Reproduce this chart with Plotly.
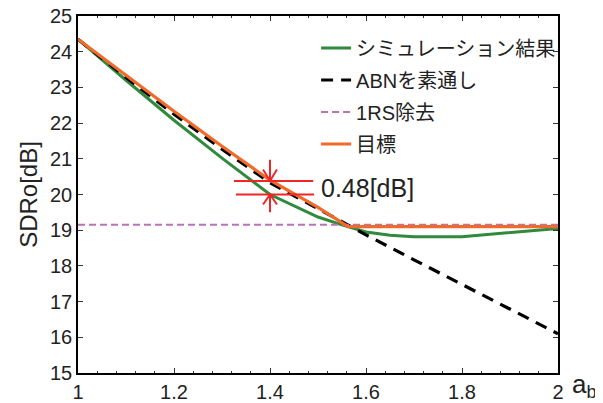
import plotly.graph_objects as go

# ---------------- data ----------------
sim_x = [1.0, 1.1, 1.2, 1.3, 1.4, 1.5, 1.55, 1.6, 1.65, 1.7, 1.8, 1.9, 2.0]
sim_y = [24.35, 23.2, 22.08, 21.02, 20.0, 19.37, 19.15, 18.95, 18.86, 18.82, 18.82, 18.93, 19.05]

abn_x = [1.0, 1.1, 1.2, 1.3, 1.4, 1.5, 1.57, 1.6, 1.7, 1.8, 1.9, 2.0]
abn_y = [24.35, 23.28, 22.25, 21.27, 20.33, 19.6, 19.08, 18.87, 18.17, 17.48, 16.8, 16.1]

rs_x = [1.0, 2.0]
rs_y = [19.15, 19.15]

tgt_x = [1.0, 1.1, 1.2, 1.3, 1.4, 1.5, 1.5625, 2.0]
tgt_y = [24.35, 23.33, 22.33, 21.35, 20.4, 19.64, 19.1, 19.1]

names = ["シミュレーション結果", "ABNを素通し", "1RS除去", "目標"]

mark_x = 1.4
mark_hi = 20.38
mark_lo = 20.0
mark_label = "0.48[dB]"

x_ticks = [1.0, 1.2, 1.4, 1.6, 1.8, 2.0]
x_ticktext = ["1", "1.2", "1.4", "1.6", "1.8", "2"]
y_ticks = list(range(15, 26))

FONT = "Liberation Sans, Arial, Noto Sans CJK JP, sans-serif"
RED = "#ee2626"

fig = go.Figure()
fig.add_trace(go.Scatter(x=sim_x, y=sim_y, mode="lines", name=names[0], legendgroup="a",
                         line=dict(color="#2f8a3b", width=3)))
fig.add_trace(go.Scatter(x=abn_x, y=abn_y, mode="lines", name=names[1], legendgroup="b",
                         line=dict(color="black", width=3.2, dash="12px,8px")))
fig.add_trace(go.Scatter(x=rs_x, y=rs_y, mode="lines", name=names[2], legendgroup="c",
                         line=dict(color="#b774b7", width=2, dash="7px,4px")))
fig.add_trace(go.Scatter(x=tgt_x, y=tgt_y, mode="lines", name=names[3], legendgroup="d",
                         line=dict(color="#f26a2a", width=3.2)))

# dimension marker (two horizontal lines with arrows pointing inward)
hx0, hx1 = mark_x - 0.075, mark_x + 0.09
sh_hi, sh_lo = 0.59, 0.5
bdx, bdy_hi, bdy_lo = 0.0145, 0.32, 0.28
seg_x = [hx0, hx1, None, hx0 + 0.004, hx1 + 0.002, None,
         mark_x, mark_x, None,
         mark_x - bdx, mark_x, mark_x + bdx, None,
         mark_x, mark_x, None,
         mark_x - bdx, mark_x, mark_x + bdx]
seg_y = [mark_hi, mark_hi, None, mark_lo, mark_lo, None,
         mark_hi, mark_hi + sh_hi, None,
         mark_hi + bdy_hi, mark_hi, mark_hi + bdy_hi, None,
         mark_lo, mark_lo - sh_lo, None,
         mark_lo - bdy_lo, mark_lo, mark_lo - bdy_lo]
fig.add_trace(go.Scatter(x=seg_x, y=seg_y, mode="lines", showlegend=False, hoverinfo="skip",
                         line=dict(color=RED, width=2)))

fig.add_annotation(x=mark_x + 0.102, y=(mark_hi + mark_lo) / 2, xref="x", yref="y",
                   text=mark_label, showarrow=False, xanchor="left", yanchor="middle",
                   font=dict(size=25, color="#222222", family=FONT))

fig.add_annotation(x=1.026, y=-0.035, xref="paper", yref="paper",
                   text="a<sub>b</sub>", showarrow=False, xanchor="left", yanchor="middle",
                   font=dict(size=26, color="#222222", family=FONT))

axis_common = dict(showline=True, linecolor="black", linewidth=1.5, mirror="ticks",
                   ticks="inside", tickcolor="#333333", ticklen=5, tickwidth=1,
                   showgrid=False, zeroline=False, ticklabeloverflow="allow",
                   tickfont=dict(size=20, color="#222222", family=FONT))

fig.update_xaxes(range=[1, 2], tickvals=x_ticks, ticktext=x_ticktext,
                 minor=dict(dtick=0.04, tick0=1, ticks="inside", ticklen=2.5,
                            tickcolor="#333333"),
                 **axis_common)
fig.update_yaxes(range=[15, 25], tickvals=y_ticks,
                 title=dict(text="SDRo[dB]", font=dict(size=24, color="#222222", family=FONT),
                            standoff=6),
                 **axis_common)

# the page body adds an 8px offset, so the figure is 8px smaller and shifted
fig.update_layout(
    width=595, height=395,
    margin=dict(l=70, r=45, t=8, b=30, autoexpand=False),
    plot_bgcolor="white", paper_bgcolor="white",
    font=dict(family=FONT, color="#222222"),
    legend=dict(x=0.496, y=0.965, xanchor="left", yanchor="top",
                bgcolor="rgba(0,0,0,0)", tracegroupgap=3,
                font=dict(size=20, family=FONT, color="#222222")),
)

fig.write_html("out.html")
